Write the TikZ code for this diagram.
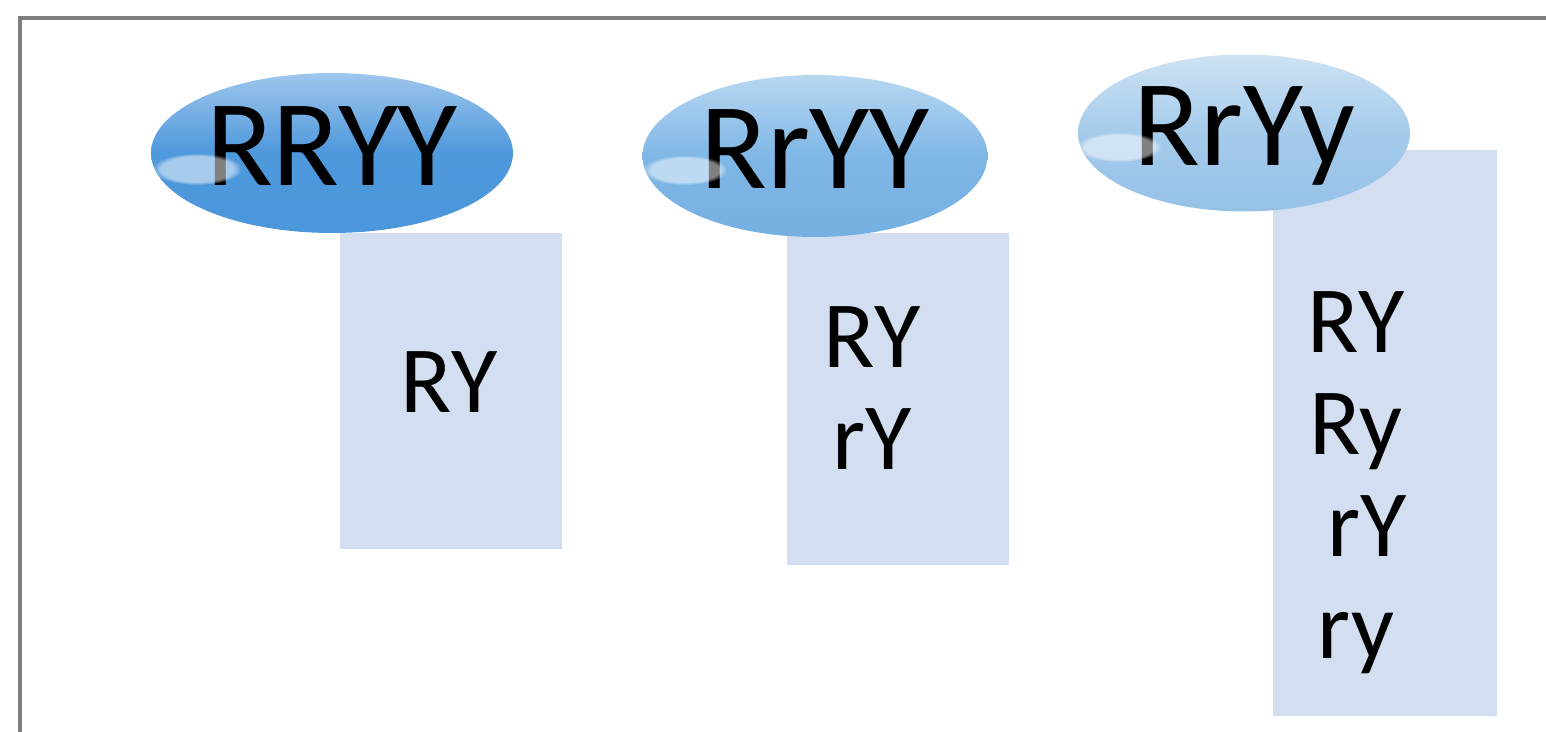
\documentclass[tikz,border=0pt]{standalone}
\usepackage{fontspec}
\setmainfont{Carlito}
\usepackage{xcolor}
\usetikzlibrary{positioning, shapes.geometric, fadings, calc}
\definecolor{framegray}{HTML}{7F7F7F}
\definecolor{gamefill}{HTML}{D3DFF0}
\definecolor{genodark}{HTML}{4E98DC}
\definecolor{genomid}{HTML}{7FB7E6}
\definecolor{genolight}{HTML}{A5CBEB}
\definecolor{genodeep}{HTML}{3F88D2}
\tikzset{
  genotype/.style={
    ellipse,
    inner sep=0pt,
    text height=42pt,
    text depth=5.2pt,
    font=\fontsize{70}{70}\selectfont,
    top color=#1!55!white,
    bottom color=#1!85!genodeep,
    middle color=#1
  },
  gametebox/.style={
    rectangle,
    fill=gamefill,
    inner sep=0pt
  },
  gametelist/.style={
    align=center,
    inner sep=0pt,
    font=\fontsize{54}{58}\selectfont
  },
  gloss/.style={
    white,
    fill opacity=0.5,
    path fading=circle with fuzzy edge 20 percent
  },
  framerule/.style={
    draw=framegray,
    line width=2.3pt
  }
}

\begin{document}
\begin{tikzpicture}[x=0.02cm, y=-0.02cm]
  \useasboundingbox (0,0) rectangle (1546,732);
  \draw[framerule] (20,740) -- (20,18) -- (1550,18);

  % gamete boxes
  \node[gametebox, minimum width=4.46cm, minimum height=6.34cm] (b1) at (451,391) {};
  \node[gametebox, minimum width=4.46cm, minimum height=6.64cm] (b2) at (898,399) {};
  \node[gametebox, minimum width=4.48cm, minimum height=11.34cm] (b3) at (1385,433) {};

  \node[gametelist] (l1) at (449,382) {RY};
  \node[gametelist] (l2) at (872,388) {RY\\rY};
  \node[gametelist] (l3) at (1356,483) {RY\\Ry\\~rY\\ry};

  % parent genotypes
  \node[genotype=genodark, minimum width=7.24cm, minimum height=3.2cm] (a1) at (332,153) {RRYY};
  \node[genotype=genomid, minimum width=6.9cm, minimum height=3.24cm] (a2) at (815,156) {RrYY};
  \node[genotype=genolight, minimum width=6.64cm, minimum height=3.14cm] (a3) at (1244,133) {RrYy};

  \fill[gloss] ($(a1.center)+(-135,16)$) ellipse [x radius=0.9cm, y radius=0.32cm];
  \fill[gloss] ($(a2.center)+(-130,14)$) ellipse [x radius=0.85cm, y radius=0.3cm];
  \fill[gloss] ($(a3.center)+(-125,14)$) ellipse [x radius=0.85cm, y radius=0.3cm];
\end{tikzpicture}
\end{document}
